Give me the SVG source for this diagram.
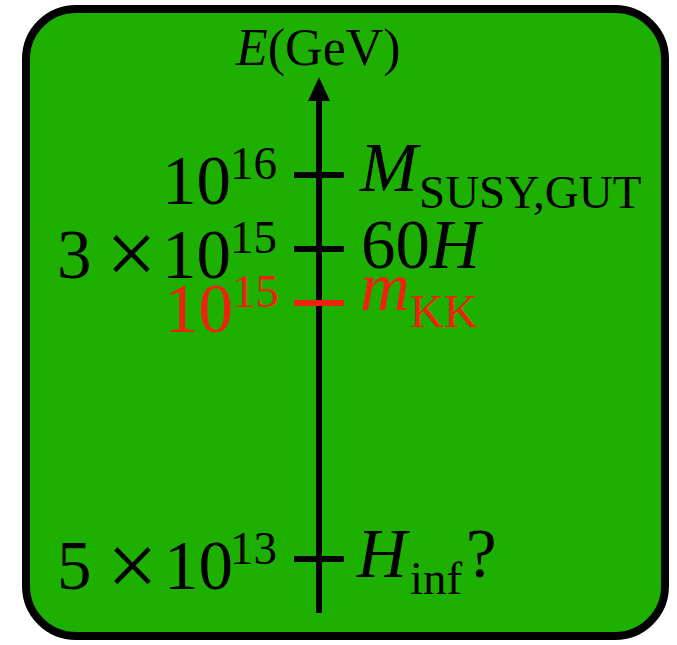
<svg xmlns="http://www.w3.org/2000/svg" width="677" height="645" viewBox="0 0 677 645">
<style>
text{font-family:"Liberation Serif","Times New Roman",serif;fill:#000}
.big{font-size:69px}
.sup{font-size:47px}
.sub{font-size:47px}
.it{font-style:italic}
.red{fill:#ee2211}
.times{font-size:90px}
.tick{stroke:#000;stroke-width:6}
</style>
<rect x="26" y="9" width="639" height="627" rx="50" ry="50" fill="#1db000" stroke="#000" stroke-width="8"/>
<g id="axis">
<line x1="319" y1="613" x2="319" y2="96" stroke="#000" stroke-width="6"/>
<polygon points="319,77 308,101 330,101" fill="#000"/>
<line class="tick" x1="294" y1="175" x2="344" y2="175"/>
<line class="tick" x1="294" y1="249" x2="344" y2="249"/>
<line class="tick" x1="294" y1="303" x2="344" y2="303" style="stroke:#ee2211"/>
<line class="tick" x1="294" y1="559" x2="344" y2="559"/>
</g>
<g id="axis-label">
<text x="236" y="65" style="font-size:52px"><tspan class="it">E</tspan>(GeV)</text>
</g>
<g id="l1016">
<text class="big" x="162" y="204">10</text><text class="sup" x="230" y="179">16</text>
</g>
<g id="l3e15">
<text class="big" x="57" y="278">3</text>
<text class="times" x="106" y="284">×</text>
<text class="big" x="162" y="278">10</text><text class="sup" x="230" y="253">15</text>
</g>
<g id="l1015red">
<text class="big red" x="164" y="332">10</text><text class="sup red" x="232" y="307">15</text>
</g>
<g id="l5e13">
<text class="big" x="57" y="589">5</text>
<text class="times" x="107" y="596">×</text>
<text class="big" x="164" y="589">10</text><text class="sup" x="230" y="564">13</text>
</g>
<g id="rMsusy">
<text class="big it" x="360" y="191">M</text><text class="sub" x="419" y="208">SUSY,GUT</text>
</g>
<g id="r60H">
<text class="big" x="361" y="268">60<tspan class="it">H</tspan></text>
</g>
<g id="rmKK">
<text class="big it red" x="360" y="310">m</text><text class="sub red" x="410" y="327">KK</text>
</g>
<g id="rHinf">
<text class="big it" x="357" y="577">H</text><text class="sub" x="410" y="594">inf</text><text class="big" x="466" y="577">?</text>
</g>
</svg>
